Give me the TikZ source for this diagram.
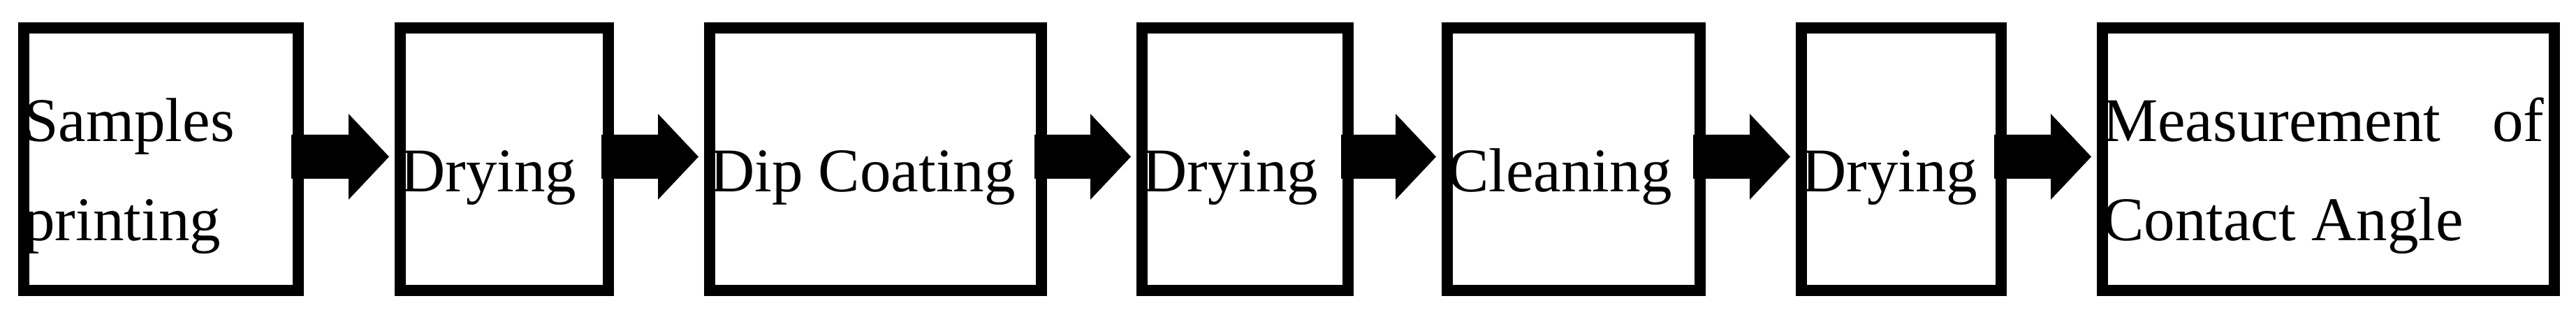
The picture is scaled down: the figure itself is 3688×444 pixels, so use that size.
\documentclass[tikz,border=0pt]{standalone}
\usepackage{fontspec}
\setmainfont{Liberation Serif}
\usetikzlibrary{calc}
\begin{document}
\begin{tikzpicture}[x=1pt,y=1pt,
  stepbox/.style={draw=black, line width=16pt, line join=miter, inner sep=0pt,
    minimum height=376pt, fill=white},
  txt/.style={inner sep=0pt, anchor=base west, font=\fontsize{89}{100}\selectfont, text=black},
  arrowfill/.style={fill=black}]
\fill[white] (0,0) rectangle (3688,444);
\useasboundingbox (0,0) rectangle (3688,444);
% boxes
\node[stepbox, minimum width=393pt] (b1) at (230.5,216) {};
\node[stepbox, minimum width=298pt] (b2) at (722,216) {};
\node[stepbox, minimum width=475pt] (b3) at (1253.5,216) {};
\node[stepbox, minimum width=295pt] (b4) at (1782.5,216) {};
\node[stepbox, minimum width=362pt] (b5) at (2253,216) {};
\node[stepbox, minimum width=286pt] (b6) at (2722,216) {};
\node[stepbox, minimum width=647pt] (b7) at (3333.5,216) {};
% texts
\node[txt, xshift=8pt] (t1a) at (b1.west |- 0,241) {Samples};
\node[txt, xshift=8pt] (t1b) at (b1.west |- 0,99) {printing};
\node[txt, xshift=8pt] (t2) at (b2.west |- 0,169) {Drying};
\node[txt, xshift=8pt] (t3) at (b3.west |- 0,169) {Dip Coating};
\node[txt, xshift=8pt] (t4) at (b4.west |- 0,169) {Drying};
\node[txt, xshift=8pt] (t5) at (b5.west |- 0,169) {Cleaning};
\node[txt, xshift=8pt] (t6) at (b6.west |- 0,169) {Drying};
\node[txt, xshift=8pt] (t7a) at (b7.west |- 0,241) {\makebox[632pt][s]{Measurement\hfill of}};
\node[txt, xshift=8pt] (t7b) at (b7.west |- 0,99) {Contact Angle};
% block arrows
\foreach \a/\b in {b1/b2, b2/b3, b3/b4, b4/b5, b5/b6, b6/b7}{
  \fill[arrowfill] let \p1=(\a.east), \p2=(\b.west) in
    (\x1-18pt,188) -- (\x2-66pt,188) -- (\x2-66pt,158) --
    (\x2-8pt,219.5) -- (\x2-66pt,281) -- (\x2-66pt,251) --
    (\x1-18pt,251) -- cycle;
}
\end{tikzpicture}
\end{document}
